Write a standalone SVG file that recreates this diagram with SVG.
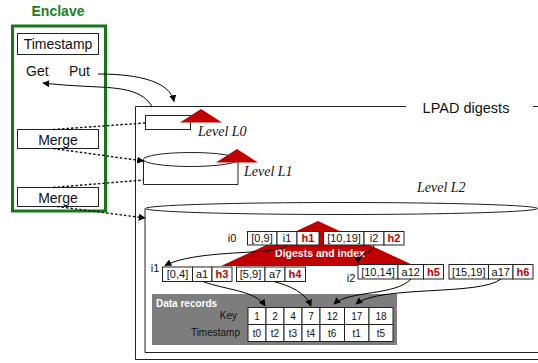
<svg xmlns="http://www.w3.org/2000/svg" width="538" height="363" viewBox="0 0 538 363">
<style>
text{font-family:"Liberation Sans",Arial,sans-serif;fill:#111}
.lbl{font-size:14px}
.lvl{font-family:"Liberation Serif","Times New Roman",serif;font-style:italic;font-size:14px}
.cell{fill:#fff;stroke:#222;stroke-width:1}
.ct{font-size:11px;text-anchor:middle}
.h{font-size:11px;font-weight:bold;fill:#c00000;text-anchor:middle}
.tt{font-size:10px;text-anchor:middle}
.box{fill:#fff;stroke:#222;stroke-width:1}
.line{fill:none;stroke:#222;stroke-width:1}
.conn{fill:none;stroke:#000;stroke-width:1}
.dot{fill:none;stroke:#111;stroke-width:1.4;stroke-dasharray:2.5,2}
.red{fill:#c00000}
</style>
<defs>
<marker id="ah" viewBox="0 0 10 10" refX="9" refY="5" markerWidth="7" markerHeight="7" orient="auto" markerUnits="userSpaceOnUse">
<path d="M0,0 L10,5 L0,10 z" fill="#000"/>
</marker>
</defs>

<g id="enclave">
<text x="58" y="16" text-anchor="middle" style="font-size:14px;font-weight:bold;fill:#17821a">Enclave</text>
<rect x="12.5" y="26" width="93" height="185" fill="none" stroke="#17751a" stroke-width="3"/>
</g>
<g id="timestamp">
<rect class="box" x="17.5" y="33.5" width="81" height="21"/>
<text class="lbl" x="58" y="49" text-anchor="middle">Timestamp</text>
</g>
<g id="get"><text class="lbl" x="26" y="76">Get</text></g>
<g id="put"><text class="lbl" x="69" y="76">Put</text></g>
<g id="merge1">
<rect class="box" x="17.5" y="129.5" width="81" height="19"/>
<text class="lbl" x="58" y="144.5" text-anchor="middle">Merge</text>
</g>
<g id="merge2">
<rect class="box" x="17.5" y="187.5" width="81" height="19"/>
<text class="lbl" x="58" y="202.5" text-anchor="middle">Merge</text>
</g>

<g id="lpad">
<path class="line" d="M406,106.5 H135.5 V359.5 H538" stroke-width="1.2"/>
<path class="line" d="M533,106.5 H538"/>
<text x="466" y="112.5" text-anchor="middle" style="font-size:14.5px">LPAD digests</text>
</g>

<g id="level0">
<rect class="box" x="145.5" y="115.5" width="45" height="14"/>
<polygon class="red" points="201,109 180,122.5 222,122.5"/>
<text class="lvl" x="198" y="136">Level L0</text>
</g>

<g id="level1">
<path class="line" d="M143.5,159.5 V184.5 H238 V159.5"/>
<ellipse cx="190.7" cy="159.5" rx="47.3" ry="7" fill="#fff" stroke="#222"/>
<polygon class="red" points="237,149 216,162.5 258,162.5"/>
<text class="lvl" x="244" y="176">Level L1</text>
</g>

<g id="level2">
<path class="line" d="M145,208.5 V352.5 H538"/>
<ellipse cx="341.5" cy="208.5" rx="196" ry="6" fill="#fff" stroke="#222"/>
<text class="lvl" x="417" y="192">Level L2</text>
</g>

<g id="digests">
<polygon class="red" points="318,221 221,266 415,266"/>
<text x="320" y="257" text-anchor="middle" style="font-size:10.5px;font-weight:bold;fill:#fff">Digests and index</text>
</g>

<g id="i0">
<text class="ct" x="232" y="242">i0</text>
<rect class="cell" x="247.5" y="231.5" width="29.5" height="13.5"/>
<rect class="cell" x="277" y="231.5" width="20" height="13.5"/>
<rect class="cell" x="297" y="231.5" width="22" height="13.5"/>
<text class="ct" x="262" y="242">[0,9]</text>
<text class="ct" x="287" y="242">i1</text>
<text class="h" x="308" y="242">h1</text>
<rect class="cell" x="323.5" y="231.5" width="40.5" height="13.5"/>
<rect class="cell" x="364" y="231.5" width="20" height="13.5"/>
<rect class="cell" x="384" y="231.5" width="20" height="13.5"/>
<text class="ct" x="344" y="242">[10,19]</text>
<text class="ct" x="374" y="242">i2</text>
<text class="h" x="394" y="242">h2</text>
</g>

<g id="i1">
<text class="ct" x="155" y="272">i1</text>
<rect class="cell" x="162.5" y="267" width="30" height="14.5"/>
<rect class="cell" x="192.5" y="267" width="19.5" height="14.5"/>
<rect class="cell" x="212" y="267" width="20" height="14.5"/>
<text class="ct" x="177.5" y="278">[0,4]</text>
<text class="ct" x="202" y="278">a1</text>
<text class="h" x="222" y="278">h3</text>
<rect class="cell" x="236.5" y="267" width="28.5" height="14.5"/>
<rect class="cell" x="265" y="267" width="20" height="14.5"/>
<rect class="cell" x="285" y="267" width="20.5" height="14.5"/>
<text class="ct" x="250.5" y="278">[5,9]</text>
<text class="ct" x="275" y="278">a7</text>
<text class="h" x="295" y="278">h4</text>
</g>

<g id="i2">
<text class="ct" x="351" y="282">i2</text>
<rect class="cell" x="358" y="264.5" width="40" height="14.5"/>
<rect class="cell" x="398" y="264.5" width="25.5" height="14.5"/>
<rect class="cell" x="423.5" y="264.5" width="20" height="14.5"/>
<text class="ct" x="378" y="275.5">[10,14]</text>
<text class="ct" x="410.7" y="275.5">a12</text>
<text class="h" x="433.5" y="275.5">h5</text>
<rect class="cell" x="449" y="264.5" width="39.5" height="14.5"/>
<rect class="cell" x="488.5" y="264.5" width="24.5" height="14.5"/>
<rect class="cell" x="513" y="264.5" width="20" height="14.5"/>
<text class="ct" x="468.7" y="275.5">[15,19]</text>
<text class="ct" x="500.7" y="275.5">a17</text>
<text class="h" x="523" y="275.5">h6</text>
</g>

<g id="datarecords">
<rect x="152" y="294" width="245" height="51" fill="#7d7d7d"/>
<text x="156" y="306.5" style="font-size:10px;font-weight:bold;fill:#fff">Data records</text>
<text x="237" y="319" text-anchor="end" style="font-size:10px">Key</text>
<text x="240" y="336" text-anchor="end" style="font-size:10px">Timestamp</text>
<g>
<rect class="cell" x="248" y="307.5" width="18" height="17"/>
<rect class="cell" x="266" y="307.5" width="18" height="17"/>
<rect class="cell" x="284" y="307.5" width="18" height="17"/>
<rect class="cell" x="302" y="307.5" width="18" height="17"/>
<rect class="cell" x="320" y="307.5" width="24.5" height="17"/>
<rect class="cell" x="344.5" y="307.5" width="24.5" height="17"/>
<rect class="cell" x="369" y="307.5" width="24" height="17"/>
<rect class="cell" x="248" y="324.5" width="18" height="17"/>
<rect class="cell" x="266" y="324.5" width="18" height="17"/>
<rect class="cell" x="284" y="324.5" width="18" height="17"/>
<rect class="cell" x="302" y="324.5" width="18" height="17"/>
<rect class="cell" x="320" y="324.5" width="24.5" height="17"/>
<rect class="cell" x="344.5" y="324.5" width="24.5" height="17"/>
<rect class="cell" x="369" y="324.5" width="24" height="17"/>
</g>
<text class="tt" x="257" y="319.5">1</text>
<text class="tt" x="275" y="319.5">2</text>
<text class="tt" x="293" y="319.5">4</text>
<text class="tt" x="311" y="319.5">7</text>
<text class="tt" x="332.2" y="319.5">12</text>
<text class="tt" x="356.7" y="319.5">17</text>
<text class="tt" x="381" y="319.5">18</text>
<text class="tt" x="257" y="336.5">t0</text>
<text class="tt" x="275" y="336.5">t2</text>
<text class="tt" x="293" y="336.5">t3</text>
<text class="tt" x="311" y="336.5">t4</text>
<text class="tt" x="332.2" y="336.5">t6</text>
<text class="tt" x="356.7" y="336.5">t1</text>
<text class="tt" x="381" y="336.5">t5</text>
</g>

<g id="connectors">
<path class="conn" d="M98,74 C140,74 170,82 174,101.5" marker-end="url(#ah)"/>
<path class="conn" d="M152,106.5 C140,86 110,88 80,86 C62,85 52,84 43,83" marker-end="url(#ah)"/>
<path class="dot" d="M53,129.5 L145,123"/>
<path class="dot" d="M53,148.5 L143.5,161" marker-end="url(#ah)"/>
<path class="dot" d="M53,187.5 L143.5,180"/>
<path class="dot" d="M57,206.5 L145,218" marker-end="url(#ah)"/>
<path class="conn" d="M287,245 C282,256 200,248 165,265.5" marker-end="url(#ah)"/>
<path class="conn" d="M374,245 C373,256 358,251 358,263" marker-end="url(#ah)"/>
<path class="conn" d="M203,281.5 C225,290 255,290 265,306" marker-end="url(#ah)"/>
<path class="conn" d="M274,281.5 C290,286 305,292 311,306" marker-end="url(#ah)"/>
<path class="conn" d="M411,279 C395,296 350,290 334,304" marker-end="url(#ah)"/>
<path class="conn" d="M501,279 C480,296 380,285 356,304" marker-end="url(#ah)"/>
</g>
</svg>
